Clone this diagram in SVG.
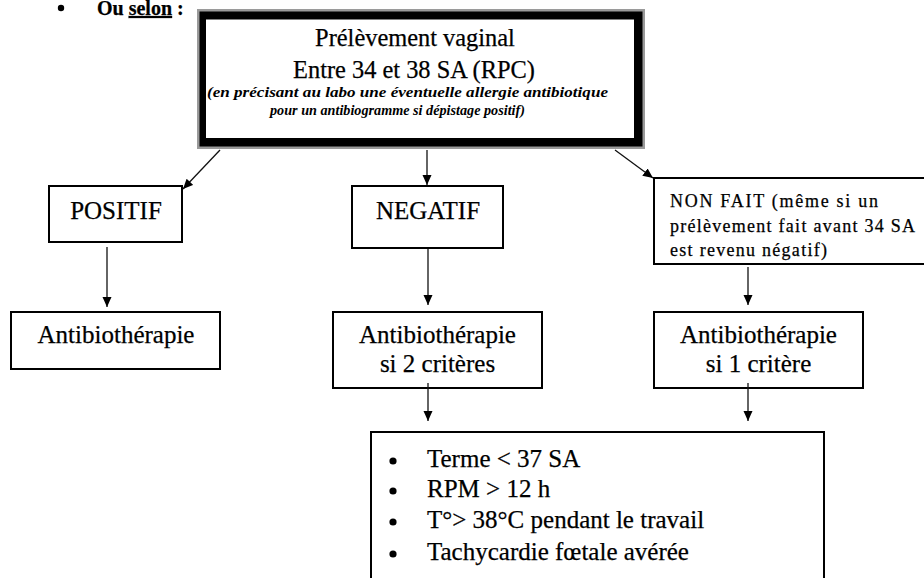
<svg xmlns="http://www.w3.org/2000/svg" width="924" height="578" viewBox="0 0 924 578" font-family="'Liberation Serif', 'DejaVu Serif', serif">
<style>
text{font-family:'Liberation Serif','DejaVu Serif',serif;fill:#000;stroke:#000;stroke-width:0.25}
.t{font-size:25px}
.tt{font-size:24.4px}
.c{text-anchor:middle}
.it{font-size:14px;font-style:italic;font-weight:bold;stroke-width:0}
.nf{font-size:18px}
.box{fill:#fff;stroke:#000;stroke-width:2}
.ln{stroke:#111;stroke-width:1.3;fill:none}
</style>
<defs>
<marker id="ah" markerUnits="userSpaceOnUse" markerWidth="10" markerHeight="10" refX="10" refY="4.5" orient="auto">
<path d="M0,0 L10,4.5 L0,9 z" fill="#000"/>
</marker>
</defs>
<rect width="924" height="578" fill="#fff"/>
<g id="header">
<circle cx="61" cy="8" r="3.2" fill="#000"/>
<text x="97" y="15" font-size="20" font-weight="bold" stroke-width="0">Ou <tspan text-decoration="underline">selon</tspan> :</text>
</g>
<g id="prelevement">
<rect x="197" y="9" width="448" height="140" fill="#9a9a9a"/>
<rect x="199.5" y="11.5" width="443" height="135" fill="#000"/>
<rect x="206" y="19.5" width="428" height="118.5" fill="#fff"/>
<text class="tt c" x="415" y="46">Prélèvement vaginal</text>
<text class="tt c" x="414" y="78">Entre 34 et 38 SA (RPC)</text>
<text class="it" x="207" y="97" textLength="401" lengthAdjust="spacingAndGlyphs">(en précisant au labo une éventuelle allergie antibiotique</text>
<text class="it" x="270" y="115" textLength="255" lengthAdjust="spacingAndGlyphs">pour un antibiogramme si dépistage positif)</text>
</g>
<g id="positif">
<rect class="box" x="49" y="186" width="133" height="56"/>
<text class="t c" x="116" y="219">POSITIF</text>
</g>
<g id="negatif">
<rect class="box" x="352" y="186" width="151" height="62"/>
<text class="t c" x="428" y="219">NEGATIF</text>
</g>
<g id="nonfait">
<rect class="box" x="654" y="178" width="290" height="86"/>
<text class="nf" x="670" y="207" textLength="208" lengthAdjust="spacing">NON FAIT (même si un</text>
<text class="nf" x="670" y="232" textLength="245" lengthAdjust="spacing">prélèvement fait avant 34 SA</text>
<text class="nf" x="670" y="256" textLength="157" lengthAdjust="spacing">est revenu négatif)</text>
</g>
<g id="antibio1">
<rect class="box" x="11" y="312" width="209" height="57"/>
<text class="t c" x="116" y="343">Antibiothérapie</text>
</g>
<g id="antibio2">
<rect class="box" x="333" y="312" width="209" height="76"/>
<text class="t c" x="437.5" y="343">Antibiothérapie</text>
<text class="t c" x="437.5" y="372">si 2 critères</text>
</g>
<g id="antibio3">
<rect class="box" x="654" y="312" width="209" height="76"/>
<text class="t c" x="758.5" y="343">Antibiothérapie</text>
<text class="t c" x="758.5" y="372">si 1 critère</text>
</g>
<g id="criteres">
<rect class="box" x="371" y="432" width="453" height="170"/>
<circle cx="393" cy="461" r="3.6" fill="#000"/>
<circle cx="393" cy="491" r="3.6" fill="#000"/>
<circle cx="393" cy="522" r="3.6" fill="#000"/>
<circle cx="393" cy="554" r="3.6" fill="#000"/>
<text class="t" x="427" y="467">Terme &lt; 37 SA</text>
<text class="t" x="427" y="497">RPM &gt; 12 h</text>
<text class="t" x="427" y="528">T°&gt; 38°C pendant le travail</text>
<text class="t" x="427" y="560">Tachycardie fœtale avérée</text>
</g>
<g id="connectors">
<line class="ln" x1="220" y1="150" x2="183" y2="189" marker-end="url(#ah)"/>
<line class="ln" x1="427" y1="150" x2="427" y2="185" marker-end="url(#ah)"/>
<line class="ln" x1="615" y1="150" x2="653" y2="178" marker-end="url(#ah)"/>
<line class="ln" x1="107" y1="247" x2="107" y2="307" marker-end="url(#ah)" stroke="#888"/>
<line class="ln" x1="428" y1="249" x2="428" y2="305" marker-end="url(#ah)"/>
<line class="ln" x1="748" y1="267" x2="748" y2="305" marker-end="url(#ah)"/>
<line class="ln" x1="428" y1="383" x2="428" y2="421" marker-end="url(#ah)"/>
<line class="ln" x1="748" y1="383" x2="748" y2="421" marker-end="url(#ah)"/>
</g>
</svg>
